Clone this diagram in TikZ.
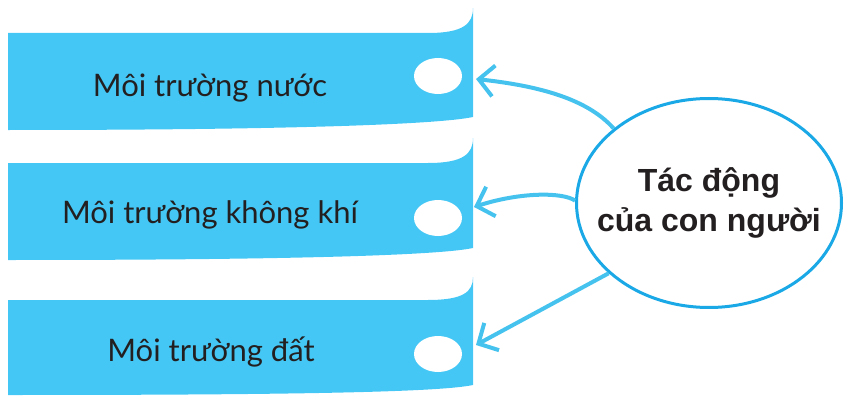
\documentclass[tikz,border=0pt]{standalone}
\usepackage{fontspec}
\setmainfont{Lato}
\newfontfamily\negrita{Liberation Sans}
\usetikzlibrary{shapes.geometric,arrows.meta}
\definecolor{cinta}{HTML}{44C7F4}
\definecolor{borde}{HTML}{1AA9E6}
\definecolor{flecha}{HTML}{45C3EE}
\definecolor{tinta}{HTML}{231F20}
\begin{document}
\begin{tikzpicture}[x=1pt, y=-1pt,
    rotulo/.style={text=tinta, font=\fontsize{31}{36}\selectfont, inner sep=0pt},
    flechita/.style={flecha, line width=4pt, -{Straight Barb[length=15pt,width=31pt]}}]

     \useasboundingbox (0,0) rectangle (844,396);

     % Cintas azules con la punta enrollada arriba a la derecha
     \fill[cinta] (8,33) -- (428,33) .. controls (463,33) and (473,24) .. (473,8)
        -- (473,117) .. controls (440,124) and (300,130) .. (8,130) -- cycle;
     \fill[cinta] (8,163) -- (428,163) .. controls (463,163) and (473,154) .. (473,138)
        -- (473,248) .. controls (440,255) and (300,260) .. (8,260) -- cycle;
     \fill[cinta] (8,300) -- (428,300) .. controls (463,300) and (473,292) .. (473,277)
        -- (473,385) .. controls (440,392) and (300,395) .. (8,395) -- cycle;

     % Agujeros blancos
     \fill[white] (438,76) ellipse [x radius=24, y radius=18];
     \fill[white] (438,218) ellipse [x radius=24, y radius=18];
     \fill[white] (438,354) ellipse [x radius=24, y radius=18];

     % Textos de las cintas
     \node[rotulo] (m1) at (210,88) {Môi trường nước};
     \node[rotulo] (m2) at (210,215) {Môi trường không khí};
     \node[rotulo] (m3) at (211,352) {Môi trường đất};

     % Puntos de llegada de las flechas
     \coordinate (h1) at (476,79);
     \coordinate (h2) at (474,207);
     \coordinate (h3) at (476,345);

     % Elipse central
     \node[ellipse, draw=borde, line width=3pt, fill=white, inner xsep=-25pt, inner ysep=0pt,
           minimum width=265pt, minimum height=209pt, align=center, text=tinta,
           font=\negrita\bfseries\fontsize{32}{40}\selectfont] (tac) at (709,203)
           {Tác động\\của con người};

     % Flechas
     \draw[flechita] (tac.142) .. controls (585,96) and (530,85) .. (h1);
     \draw[flechita] (tac.179) .. controls (563,192) and (520,192) .. (h2);
     \draw[flechita] (tac.215) -- (h3);

   \end{tikzpicture}
\end{document}
